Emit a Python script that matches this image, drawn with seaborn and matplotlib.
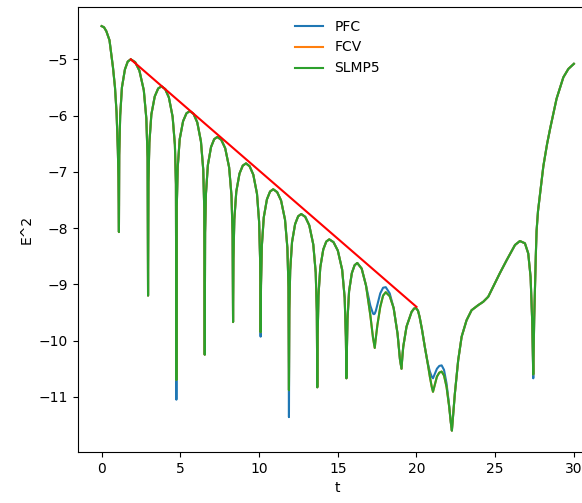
import matplotlib
matplotlib.use("Agg")
import matplotlib.pyplot as plt
import seaborn as sns
import pandas as pd

# ---- data ----
t = [0, 0.15, 0.3, 0.5, 0.72, 0.85, 0.95, 1.03, 1.07, 1.1,
     1.12, 1.18, 1.29, 1.48, 1.66, 1.85,
     2.13, 2.40, 2.68, 2.84, 2.92, 2.95,
     2.975, 3.035, 3.16, 3.375, 3.59, 3.8,
     4.04, 4.275, 4.51, 4.655, 4.72, 4.75,
     4.775, 4.835, 4.96, 5.175, 5.39, 5.6,
     5.84, 6.075, 6.31, 6.455, 6.52, 6.55,
     6.575, 6.63, 6.75, 6.95, 7.15, 7.35,
     7.6, 7.85, 8.1, 8.25, 8.32, 8.35,
     8.375, 8.43, 8.555, 8.76, 8.965, 9.17,
     9.4, 9.635, 9.87, 10.005, 10.07, 10.1,
     10.125, 10.18, 10.3, 10.5, 10.7, 10.9,
     11.15, 11.4, 11.65, 11.8, 11.87, 11.9,
     11.925, 11.98, 12.095, 12.29, 12.485, 12.68,
     12.935, 13.19, 13.445, 13.6, 13.67, 13.7,
     13.725, 13.775, 13.89, 14.08, 14.27, 14.46,
     14.73, 15.005, 15.28, 15.44, 15.515, 15.55,
     15.57, 15.62, 15.72, 15.895, 16.07, 16.24,
     16.52, 16.795, 17.07, 17.24, 17.3, 17.35,
     17.42, 17.52, 17.7, 17.88, 18.05,
     18.3, 18.55, 18.8, 18.95, 19.05,
     19.1, 19.16, 19.37, 19.69, 19.85, 19.97,
     20.1, 20.2, 20.35, 20.53, 20.7, 20.85, 20.97, 21.05,
     21.15, 21.3, 21.45, 21.6, 21.75, 21.91, 22.08, 22.18, 22.25,
     22.35, 22.44, 22.65, 22.87, 23.18, 23.5, 23.92, 24.24, 24.56, 24.88,
     25.3, 25.73, 26.26, 26.57, 26.89, 27.1, 27.25, 27.35, 27.42,
     27.48, 27.53, 27.58, 27.63, 27.72, 27.85, 28.06, 28.3, 28.5, 28.9,
     29.33, 29.65, 30.0]

slmp5 = [-4.41, -4.43, -4.50, -4.66, -5.14, -5.50, -5.95, -6.60, -7.10, -8.07,
         -6.70, -6.00, -5.50, -5.18, -5.04, -5.00,
         -5.05, -5.20, -5.55, -6.05, -6.75, -9.20,
         -7.18, -6.48, -5.98, -5.66, -5.52, -5.48,
         -5.53, -5.68, -6.02, -6.52, -7.22, -10.70,
         -7.62, -6.92, -6.42, -6.10, -5.96, -5.92,
         -5.97, -6.12, -6.46, -6.96, -7.66, -10.25,
         -8.08, -7.38, -6.88, -6.56, -6.42, -6.38,
         -6.43, -6.58, -6.92, -7.42, -8.12, -9.67,
         -8.55, -7.85, -7.35, -7.03, -6.89, -6.85,
         -6.90, -7.05, -7.39, -7.89, -8.59, -9.85,
         -9.01, -8.31, -7.81, -7.49, -7.35, -7.31,
         -7.36, -7.51, -7.85, -8.35, -9.05, -10.88,
         -9.45, -8.75, -8.25, -7.93, -7.79, -7.75,
         -7.80, -7.95, -8.29, -8.79, -9.49, -10.83,
         -9.90, -9.20, -8.70, -8.38, -8.24, -8.20,
         -8.25, -8.40, -8.74, -9.24, -9.94, -10.67,
         -10.32, -9.62, -9.12, -8.80, -8.66, -8.62,
         -8.72, -9.02, -9.55, -9.95, -10.05, -10.13,
         -9.95, -9.72, -9.40, -9.20, -9.14,
         -9.21, -9.42, -9.88, -10.33, -10.50,
         -10.30, -10.11, -9.75, -9.49, -9.43, -9.42,
         -9.47, -9.58, -9.80, -10.11, -10.38, -10.64, -10.82, -10.91,
         -10.80, -10.64, -10.57, -10.55, -10.62, -10.82, -11.18, -11.45, -11.60,
         -11.25, -10.94, -10.35, -9.93, -9.64, -9.46, -9.37, -9.31, -9.22, -9.04,
         -8.80, -8.57, -8.30, -8.23, -8.27, -8.45, -8.87, -9.64, -10.60,
         -9.60, -9.04, -8.50, -8.05, -7.70, -7.40, -6.90, -6.50, -6.22, -5.70,
         -5.32, -5.17, -5.08]

# FCV coincides with SLMP5 everywhere in the picture (hidden under it)
fcv = list(slmp5)

# PFC equals SLMP5 except at these times
pfc_t = [4.75, 10.1, 11.9,
         17.07, 17.24, 17.3, 17.35, 17.42, 17.52, 17.7, 17.88, 18.05, 18.3,
         20.85, 20.97, 21.05, 21.15, 21.3, 21.45, 21.6, 21.75, 21.91, 22.08,
         27.42]
pfc_y = [-11.05, -9.93, -11.36,
         -9.38, -9.52, -9.53, -9.52, -9.47, -9.36, -9.16, -9.06, -9.05, -9.16,
         -10.55, -10.64, -10.67, -10.60, -10.50, -10.45, -10.44, -10.52, -10.76, -11.16,
         -10.67]

# straight red reference line
ref_t = [1.85, 20.0]
ref_y = [-5.0, -9.4]

series_names = ["PFC", "FCV", "SLMP5"]
series_colors = ["#1f77b4", "#ff7f0e", "#2ca02c"]

# ---- build frames ----
override = dict(zip(pfc_t, pfc_y))
pfc = [override.get(tt, yy) for tt, yy in zip(t, slmp5)]
values = {"PFC": pfc, "FCV": fcv, "SLMP5": slmp5}

plt.rcParams["font.family"] = ["DejaVu Sans"]
plt.rcParams["font.size"] = 10

fig = plt.figure(figsize=(5.82, 5.03), dpi=100)
ax = fig.add_axes([78 / 582, 51 / 503, 519.5 / 582, 445 / 503])

for name, col in zip(series_names, series_colors):
    df = pd.DataFrame({"t": t, "v": values[name]})
    sns.lineplot(data=df, x="t", y="v", ax=ax, color=col, lw=1.5,
                 estimator=None, sort=False, label=name)

ref = pd.DataFrame({"t": ref_t, "v": ref_y})
sns.lineplot(data=ref, x="t", y="v", ax=ax, color="red", lw=1.5,
             estimator=None, sort=False)

ax.set_xlim(-1.5, 31.5)
ax.set_ylim(-11.98, -4.07)
ax.set_xticks([0, 5, 10, 15, 20, 25, 30])
ax.set_yticks([-5, -6, -7, -8, -9, -10, -11])
ax.set_xlabel("t")
ax.set_ylabel("E^2")

handles, labels = ax.get_legend_handles_labels()
keep = [(h, l) for h, l in zip(handles, labels) if l in series_names]
ax.legend([h for h, _ in keep], [l for _, l in keep],
          loc="upper center", frameon=False)

fig.savefig("out.png", dpi=100)
